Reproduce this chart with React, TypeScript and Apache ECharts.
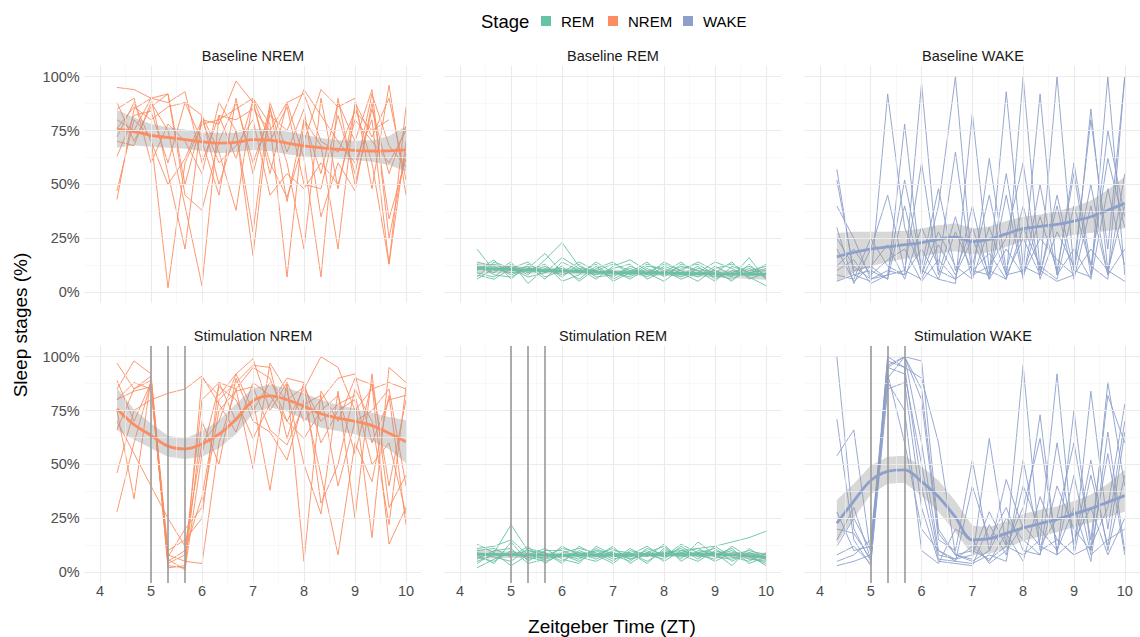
import React, { useEffect, useRef } from "react";
import * as echarts from "echarts";

// Zeitgeber time of each 20-minute bin (hours)
const ZT = [4.333, 4.667, 5, 5.333, 5.667, 6, 6.333, 6.667, 7, 7.333, 7.667, 8, 8.333, 8.667, 9, 9.333, 9.667, 10];
const X_TICKS = [4, 5, 6, 7, 8, 9, 10];
const X_MINOR = [4.5, 5.5, 6.5, 7.5, 8.5, 9.5];
const Y_TICKS = [0, 25, 50, 75, 100];
const Y_MINOR = [12.5, 37.5, 62.5, 87.5];
const STIM_TIMES = [5, 5.333, 5.667];

const STAGES = ["REM", "NREM", "WAKE"];
const STAGE_COLORS: Record<string, string> = { REM: "#66C2A5", NREM: "#FC8D62", WAKE: "#8DA0CB" };

// ---- Baseline NREM (% per bin, one row per animal) ----
const BASE_NREM = [
  [95, 94, 90, 88, 93, 60, 82, 80, 85, 75, 88, 92, 70, 65, 84, 75, 80, null],
  [88, 70, 86, 92, 50, 80, 78, 98, 88, 60, 44, 70, 94, 86, 90, 48, 96, 45],
  [43, 85, 90, 55, 20, 82, 50, 75, 17, 85, 60, 20, 90, 48, 86, 60, 13, 86],
  [47, 80, 72, 2, 60, 78, 80, 85, 90, 78, 7, 80, 55, 88, 70, 94, 25, 65],
  [70, 68, 88, 75, 40, 3, 82, 62, 89, 55, 88, 62, 7, 90, 50, 85, 55, 77],
  [63, 82, 84, 60, 88, 70, 45, 90, 55, 86, 42, 80, 68, 20, 88, 72, 90, 52],
  [76, 86, 80, 86, 88, 82, 65, 38, 90, 70, 86, 50, 48, 82, 55, 92, 68, 58],
  [80, 75, 90, 92, 45, 38, 70, 88, 60, 82, 75, 94, 82, 70, 60, 80, 13, 70],
  [85, 90, 60, 78, 70, 55, 88, 75, 28, 88, 65, 85, 35, 60, 47, 88, 34, 62],
  [72, 88, 70, 50, 62, 80, 60, 68, 80, 45, 55, 48, 60, 50, 80, 70, 60, 75],
];
const BASE_NREM_FIT = [75.5, 74.5, 72.8, 71.8, 70.8, 69.8, 69.2, 69.5, 70.8, 70.5, 69.2, 67.9, 67.0, 66.3, 65.8, 65.5, 65.6, 66.0];
const BASE_NREM_LO = [67, 68, 67.5, 67, 66.5, 65.5, 64.5, 65, 66, 65.5, 64, 63, 62.5, 62, 61.3, 60.5, 59, 56];
const BASE_NREM_HI = [84.5, 81, 78, 76.5, 75.5, 74, 74, 74, 75.8, 75.5, 74.5, 73, 71.5, 70.5, 70.3, 70.5, 72.5, 77];

// ---- Baseline REM ----
const BASE_REM = [
  [20, 10, 12, 8, 15, 23, 12, 9, 10, 6, 11, 8, 12, 10, 7, 9, 12, 8],
  [14, 12, 8, 11, 18, 9, 14, 10, 7, 12, 9, 5, 11, 13, 8, 6, 10, 12],
  [10, 15, 6, 13, 9, 12, 5, 11, 14, 8, 13, 10, 6, 9, 14, 11, 7, 3],
  [8, 6, 11, 14, 7, 10, 9, 13, 6, 10, 7, 12, 9, 5, 11, 13, 9, 10],
  [12, 9, 14, 4, 11, 8, 11, 6, 12, 15, 10, 9, 14, 8, 10, 7, 16, 6],
  [6, 11, 9, 10, 13, 5, 8, 14, 9, 7, 12, 11, 8, 12, 6, 10, 8, 13],
  [11, 13, 10, 12, 6, 14, 10, 8, 11, 13, 6, 10, 7, 11, 9, 14, 6, 9],
  [9, 7, 13, 9, 12, 7, 13, 7, 8, 11, 8, 14, 10, 7, 12, 8, 11, 7],
  [13, 8, 7, 11, 10, 11, 6, 12, 5, 9, 14, 7, 13, 10, 5, 12, 9, 11],
  [7, 14, 11, 7, 9, 16, 11, 10, 13, 10, 9, 13, 10, 14, 10, 5, 13, 6],
];
const BASE_REM_FIT = [11, 10.8, 10.5, 10.2, 10, 9.8, 9.6, 9.3, 9.1, 9, 8.9, 8.8, 8.7, 8.6, 8.5, 8.4, 8.3, 8.2];
const BASE_REM_LO = [8.5, 8.8, 8.8, 8.7, 8.6, 8.4, 8.2, 8, 7.8, 7.7, 7.6, 7.5, 7.3, 7.1, 6.9, 6.6, 6.2, 5.7];
const BASE_REM_HI = [13.5, 12.8, 12.2, 11.7, 11.4, 11.2, 11, 10.6, 10.4, 10.3, 10.2, 10.1, 10.1, 10.1, 10.1, 10.2, 10.4, 10.7];

// ---- Baseline WAKE ----
const BASE_WAKE = [
  [57, 8, 5, 92, 30, 10, 6, 4, 83, 10, 6, 100, 10, 5, 8, 85, 10, 5],
  [52, 10, 12, 6, 78, 8, 40, 100, 10, 8, 93, 12, 8, 45, 10, 7, 100, 8],
  [40, 25, 6, 10, 8, 97, 10, 6, 12, 45, 8, 10, 92, 8, 60, 12, 6, 100],
  [30, 4, 20, 45, 10, 60, 8, 35, 6, 62, 10, 40, 10, 100, 10, 50, 8, 20],
  [25, 12, 6, 8, 52, 12, 48, 10, 30, 8, 55, 8, 35, 10, 55, 8, 75, 35],
  [20, 5, 12, 22, 6, 30, 12, 65, 8, 12, 25, 60, 6, 28, 12, 80, 20, 100],
  [10, 15, 4, 8, 10, 6, 22, 8, 25, 6, 45, 6, 50, 8, 20, 6, 48, 12],
  [5, 8, 10, 6, 40, 8, 28, 12, 6, 30, 8, 25, 8, 40, 6, 40, 8, 55],
  [8, 6, 25, 12, 8, 20, 6, 28, 10, 18, 6, 30, 12, 6, 40, 12, 62, 30],
  [12, 20, 8, 15, 20, 5, 15, 6, 40, 6, 20, 8, 25, 15, 8, 20, 10, 40],
];
const BASE_WAKE_FIT = [16.4, 18.5, 20, 21, 22, 23, 24.5, 25.5, 23.5, 24.5, 27, 29.5, 30.5, 31.5, 33, 35, 38, 41.2];
const BASE_WAKE_LO = [5, 9, 12, 14, 15.5, 16.5, 18, 19, 17.5, 18.5, 21, 24, 25, 25.5, 26.5, 27.5, 28.5, 29.7];
const BASE_WAKE_HI = [27.5, 28, 28, 28, 28.5, 29.5, 31, 32, 29.5, 30.5, 33, 35, 36, 37.5, 39.5, 42.5, 47.5, 53.5];

// ---- Stimulation NREM ----
const STIM_NREM = [
  [97, 85, 91, 4, 8, 80, 88, 85, 95, 90, 70, 85, 100, 95, 75, 85, 88, 85],
  [89, 70, 88, 3, 2, 90, 82, 92, 99, 75, 88, 70, 80, 90, 92, 60, 80, 82],
  [85, 98, 92, 5, 10, 35, 80, 88, 96, 95, 62, 88, 60, 75, 80, 16, 95, 88],
  [80, 88, 85, 8, 5, 4, 60, 85, 48, 97, 84, 50, 27, 84, 25, 92, 30, 45],
  [75, 34, 90, 10, 15, 25, 88, 70, 80, 38, 88, 5, 84, 70, 90, 87, 13, 30],
  [66, 85, 89, 2, 3, 70, 50, 90, 70, 65, 52, 80, 45, 8, 60, 42, 82, 22],
  [46, 75, 80, 83, 85, 91, 78, 65, 88, 82, 70, 62, 75, 82, 55, 88, 40, 80],
  [28, 60, 88, 6, 1, 55, 86, 80, 62, 78, 90, 88, 32, 50, 85, 70, 22, 86],
  [80, 84, 86, 7, 20, 30, 75, 84, 86, 66, 59, 78, 82, 40, 70, 75, 85, 40],
  [70, 55, 40, 25, 12, 60, 70, 92, 75, 88, 80, 86, 70, 78, 82, 50, 60, 27],
];
const STIM_NREM_FIT = [75.7, 68.5, 63.5, 58.5, 57.2, 59.5, 64, 71, 79.5, 81.8, 80, 77, 73.5, 71.5, 70, 68, 64.5, 60.5];
const STIM_NREM_LO = [66, 61.5, 57.5, 53.6, 52.5, 53.5, 57.5, 64, 73.5, 76.5, 74.5, 71, 67, 65.5, 64, 61, 57, 50.5];
const STIM_NREM_HI = [85.5, 75.5, 69, 63.3, 62, 65.5, 70.5, 78, 85.5, 87, 85.5, 83, 80, 77.5, 76, 74, 72, 70.5];

// ---- Stimulation REM ----
const STIM_REM = [
  [13, 9, 22, 10, 8, 7, 9, 8, 11, 6, 8, 9, 10, 11, 12, 14, 16, 19],
  [11, 12, 15, 8, 6, 12, 8, 10, 6, 8, 12, 7, 13, 9, 11, 5, 9, 7],
  [5, 8, 8, 10, 9, 5, 10, 7, 12, 4, 9, 12, 6, 14, 8, 10, 6, 5],
  [2, 6, 9, 7, 5, 8, 6, 11, 7, 9, 5, 10, 8, 5, 10, 8, 10, 8],
  [8, 4, 14, 5, 10, 10, 7, 5, 9, 7, 10, 5, 10, 8, 6, 12, 7, 4],
  [10, 11, 7, 12, 4, 9, 11, 9, 5, 11, 7, 13, 5, 10, 9, 3, 11, 6],
  [4, 9, 3, 8, 11, 6, 4, 12, 8, 5, 11, 8, 11, 6, 12, 7, 5, 9],
  [7, 5, 10, 6, 7, 11, 9, 6, 10, 9, 4, 11, 7, 9, 5, 9, 8, 3],
  [9, 7, 5, 11, 9, 4, 12, 8, 4, 10, 8, 6, 12, 7, 8, 11, 4, 7],
  [6, 10, 11, 4, 6, 8, 5, 10, 9, 6, 9, 7, 9, 11, 7, 6, 9, 6],
];
const STIM_REM_FIT = [8.3, 8.2, 8.1, 8, 7.9, 7.9, 7.9, 7.9, 8, 8, 8.1, 8.2, 8.3, 8.3, 8.2, 8, 7.6, 7];
const STIM_REM_LO = [6, 6.4, 6.6, 6.7, 6.7, 6.7, 6.8, 6.8, 6.9, 6.9, 7, 7.1, 7.1, 7.1, 6.9, 6.6, 6, 5];
const STIM_REM_HI = [10.6, 10, 9.6, 9.3, 9.1, 9.1, 9, 9, 9.1, 9.1, 9.2, 9.3, 9.5, 9.5, 9.5, 9.4, 9.2, 9];

// ---- Stimulation WAKE ----
const STIM_WAKE = [
  [100, 20, 5, 95, 100, 98, 20, 8, 10, 6, 12, 96, 10, 15, 8, 12, 30, 78],
  [71, 15, 3, 100, 100, 80, 15, 10, 52, 10, 43, 20, 73, 8, 75, 10, 88, 40],
  [54, 66, 8, 98, 95, 90, 60, 8, 6, 62, 12, 8, 15, 92, 10, 84, 20, 70],
  [28, 10, 12, 90, 100, 60, 10, 5, 4, 8, 5, 52, 12, 25, 60, 15, 82, 60],
  [20, 18, 6, 95, 92, 50, 8, 6, 8, 28, 12, 30, 62, 10, 45, 8, 15, 20],
  [12, 25, 10, 100, 95, 40, 6, 5, 40, 15, 30, 10, 8, 60, 12, 52, 10, 45],
  [8, 12, 4, 85, 88, 30, 5, 4, 3, 22, 8, 40, 20, 10, 30, 5, 65, 10],
  [5, 8, 15, 92, 60, 20, 10, 6, 12, 5, 18, 5, 35, 15, 8, 45, 12, 65],
  [3, 5, 8, 96, 100, 85, 18, 8, 5, 10, 25, 15, 8, 40, 20, 10, 55, 8],
  [15, 30, 6, 88, 75, 10, 4, 20, 15, 4, 10, 22, 12, 8, 15, 30, 8, 25],
];
const STIM_WAKE_FIT = [22.7, 33, 42.5, 46.8, 47.5, 42, 35, 25.5, 15, 15.5, 18, 20.5, 22.5, 24.5, 27, 29.5, 32.5, 35.5];
const STIM_WAKE_LO = [13.4, 25, 36, 41, 41.5, 35.5, 28, 18.5, 8, 8.5, 11, 14.5, 16.5, 18.5, 21, 23, 25.5, 28];
const STIM_WAKE_HI = [33.5, 41, 49.5, 53.5, 54, 49, 42.5, 33, 21.5, 21, 23.5, 27, 29, 30.5, 33, 36, 41, 47.5];

const PANELS = [
  { title: "Baseline NREM", stage: "NREM", subjects: BASE_NREM, fit: BASE_NREM_FIT, lo: BASE_NREM_LO, hi: BASE_NREM_HI, stim: false },
  { title: "Baseline REM", stage: "REM", subjects: BASE_REM, fit: BASE_REM_FIT, lo: BASE_REM_LO, hi: BASE_REM_HI, stim: false },
  { title: "Baseline WAKE", stage: "WAKE", subjects: BASE_WAKE, fit: BASE_WAKE_FIT, lo: BASE_WAKE_LO, hi: BASE_WAKE_HI, stim: false },
  { title: "Stimulation NREM", stage: "NREM", subjects: STIM_NREM, fit: STIM_NREM_FIT, lo: STIM_NREM_LO, hi: STIM_NREM_HI, stim: true },
  { title: "Stimulation REM", stage: "REM", subjects: STIM_REM, fit: STIM_REM_FIT, lo: STIM_REM_LO, hi: STIM_REM_HI, stim: true },
  { title: "Stimulation WAKE", stage: "WAKE", subjects: STIM_WAKE, fit: STIM_WAKE_FIT, lo: STIM_WAKE_LO, hi: STIM_WAKE_HI, stim: true },
];

// facet layout (px)
const COL_LEFT = [84.7, 444.7, 804.7];
const PANEL_W = 336.6;
const ROW_TOP = [65.9, 345.9];
const PANEL_H = 237;
const STRIP_Y = [55.5, 336];

const FONT = "'Liberation Sans', Arial, Helvetica, sans-serif";

const toPairs = (vals: (number | null)[]) =>
  ZT.map((t, j) => [t, vals[j]]).filter((p) => p[1] !== null && p[1] !== undefined);

function buildOption() {
  const grid: any[] = [];
  const xAxis: any[] = [];
  const yAxis: any[] = [];
  const series: any[] = [];
  const graphic: any[] = [];

  PANELS.forEach((p, i) => {
    const row = Math.floor(i / 3);
    const col = i % 3;
    const color = STAGE_COLORS[p.stage];

    grid.push({ left: COL_LEFT[col], top: ROW_TOP[row], width: PANEL_W, height: PANEL_H, containLabel: false });

    xAxis.push({
      type: "value",
      gridIndex: i,
      min: 3.7,
      max: 10.3,
      axisLine: { show: false },
      axisTick: { show: false },
      splitLine: { show: false },
      axisLabel: {
        show: row === 1,
        customValues: X_TICKS,
        color: "#4D4D4D",
        fontSize: 14.5,
        fontFamily: FONT,
        margin: 1,
      },
    });
    yAxis.push({
      type: "value",
      gridIndex: i,
      min: -5,
      max: 105,
      axisLine: { show: false },
      axisTick: { show: false },
      splitLine: { show: false },
      axisLabel: {
        show: col === 0,
        customValues: Y_TICKS,
        formatter: "{value}%",
        color: "#4D4D4D",
        fontSize: 14.5,
        fontFamily: FONT,
        margin: 5,
      },
    });

    // panel grid lines
    const major = { type: "solid", color: "#EBEBEB", width: 1.1 };
    const minor = { type: "solid", color: "#F3F3F3", width: 0.6 };
    series.push({
      type: "line",
      xAxisIndex: i,
      yAxisIndex: i,
      data: [],
      silent: true,
      z: 1,
      markLine: {
        silent: true,
        symbol: ["none", "none"],
        label: { show: false },
        emphasis: { disabled: true },
        data: [
          ...X_MINOR.map((v) => ({ xAxis: v, lineStyle: minor })),
          ...Y_MINOR.map((v) => ({ yAxis: v, lineStyle: minor })),
          ...X_TICKS.map((v) => ({ xAxis: v, lineStyle: major })),
          ...Y_TICKS.map((v) => ({ yAxis: v, lineStyle: major })),
        ],
      },
    });

    // individual animals
    p.subjects.forEach((s) => {
      series.push({
        type: "line",
        xAxisIndex: i,
        yAxisIndex: i,
        data: toPairs(s),
        showSymbol: false,
        symbol: "none",
        silent: true,
        z: 2,
        lineStyle: { color, width: 1, opacity: 0.9 },
      });
    });

    // confidence band of the smooth
    series.push({
      type: "custom",
      xAxisIndex: i,
      yAxisIndex: i,
      silent: true,
      z: 3,
      data: [[ZT[0], p.fit[0]]],
      renderItem: (_params: any, api: any) => {
        const pts: number[][] = [];
        ZT.forEach((t, j) => pts.push(api.coord([t, p.hi[j]])));
        for (let j = ZT.length - 1; j >= 0; j--) pts.push(api.coord([ZT[j], p.lo[j]]));
        return {
          type: "polygon",
          shape: { points: pts },
          style: { fill: "rgba(153,153,153,0.38)", stroke: "none" },
        };
      },
    });

    // smooth trend
    series.push({
      type: "line",
      xAxisIndex: i,
      yAxisIndex: i,
      data: toPairs(p.fit),
      smooth: 0.35,
      showSymbol: false,
      symbol: "none",
      silent: true,
      z: 4,
      lineStyle: { color, width: 2.8 },
    });

    // stimulation times
    if (p.stim) {
      series.push({
        type: "line",
        xAxisIndex: i,
        yAxisIndex: i,
        data: [],
        silent: true,
        z: 5,
        markLine: {
          silent: true,
          symbol: ["none", "none"],
          label: { show: false },
          emphasis: { disabled: true },
          lineStyle: { type: "solid", color: "#9A9A9A", width: 1.6 },
          data: STIM_TIMES.map((v) => ({ xAxis: v })),
        },
      });
    }

    graphic.push({
      type: "text",
      x: COL_LEFT[col] + PANEL_W / 2,
      y: STRIP_Y[row],
      style: {
        text: p.title,
        fill: "#1A1A1A",
        font: `14.5px ${FONT}`,
        textAlign: "center",
        textVerticalAlign: "middle",
      },
    });
  });

  // axis titles
  graphic.push({
    type: "text",
    x: 612,
    y: 626,
    style: { text: "Zeitgeber Time (ZT)", fill: "#000", font: `19px ${FONT}`, textAlign: "center", textVerticalAlign: "middle" },
  });
  graphic.push({
    type: "text",
    x: 20,
    y: 325,
    rotation: Math.PI / 2,
    style: { text: "Sleep stages (%)", fill: "#000", font: `19px ${FONT}`, textAlign: "center", textVerticalAlign: "middle" },
  });

  // legend
  graphic.push({
    type: "text",
    x: 481,
    y: 21,
    style: { text: "Stage", fill: "#000", font: `18.5px ${FONT}`, textAlign: "left", textVerticalAlign: "middle" },
  });
  const keyX = [541, 608, 683];
  const labelX = [561, 628, 703];
  STAGES.forEach((st, k) => {
    graphic.push({
      type: "rect",
      shape: { x: keyX[k], y: 16, width: 10, height: 10 },
      style: { fill: STAGE_COLORS[st] },
    });
    graphic.push({
      type: "text",
      x: labelX[k],
      y: 21,
      style: { text: st, fill: "#000", font: `15px ${FONT}`, textAlign: "left", textVerticalAlign: "middle" },
    });
  });

  return {
    animation: false,
    backgroundColor: "#FFFFFF",
    textStyle: { fontFamily: FONT },
    grid,
    xAxis,
    yAxis,
    series,
    graphic,
  };
}

export default function App() {
  const ref = useRef<HTMLDivElement>(null);
  useEffect(() => {
    if (!ref.current) return;
    const chart = echarts.init(ref.current, null, { renderer: "svg" });
    chart.setOption(buildOption() as any);
    return () => chart.dispose();
  }, []);
  return <div ref={ref} style={{ position: "absolute", left: 0, top: 0, width: 1140, height: 637 }} />;
}
